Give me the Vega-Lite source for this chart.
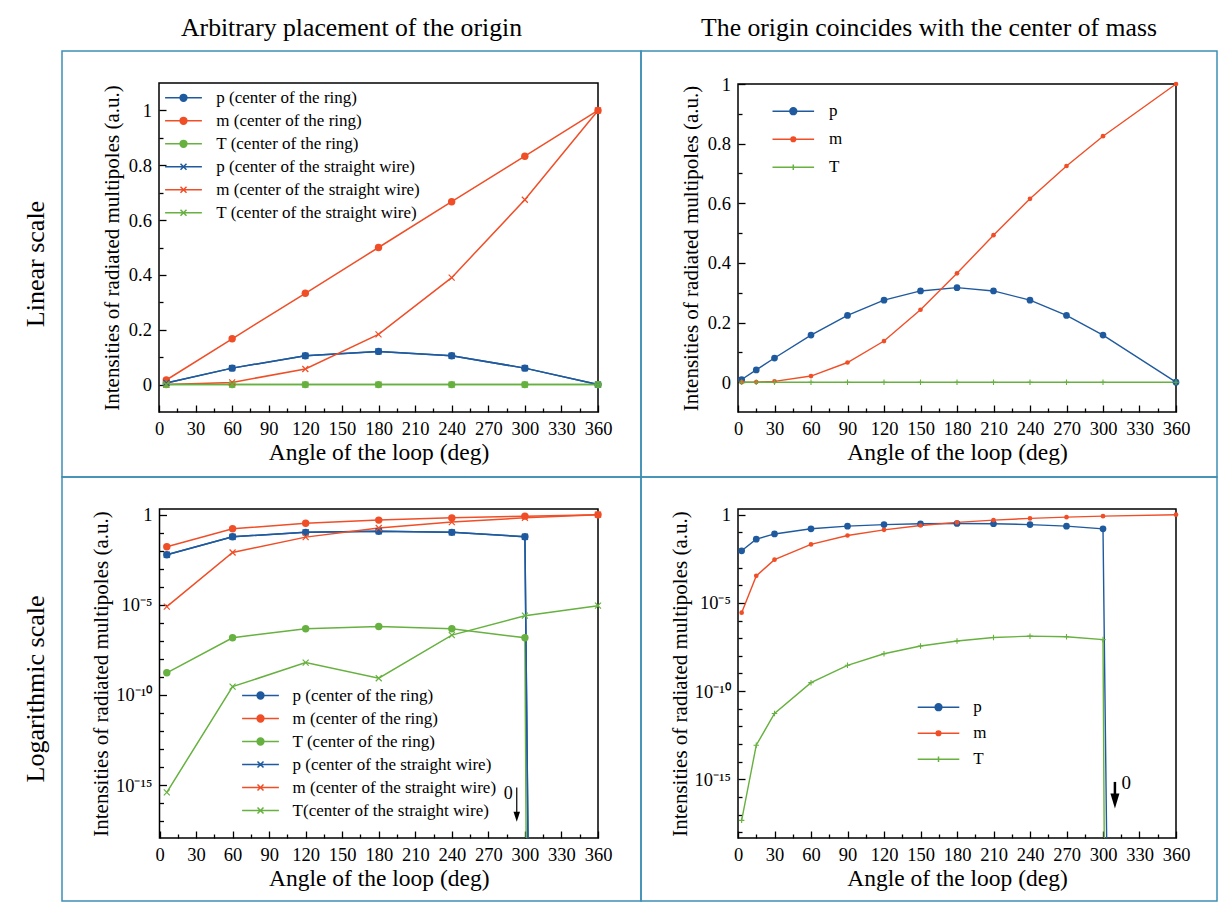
{
  "$schema": "https://vega.github.io/schema/vega-lite/v6.json",
  "background": "white",
  "padding": {"left": 9, "top": 4, "right": 1, "bottom": 1},
  "spacing": 0,
  "bounds": "flush",
  "columns": 3,
  "datasets": {
    "tl": [
      {"angle": 6, "value": 0.006, "series": "p (center of the ring)"},
      {"angle": 60, "value": 0.06, "series": "p (center of the ring)"},
      {"angle": 120, "value": 0.105, "series": "p (center of the ring)"},
      {"angle": 180, "value": 0.121, "series": "p (center of the ring)"},
      {"angle": 240, "value": 0.105, "series": "p (center of the ring)"},
      {"angle": 300, "value": 0.06, "series": "p (center of the ring)"},
      {"angle": 360, "value": 0, "series": "p (center of the ring)"},
      {"angle": 6, "value": 0.0167, "series": "m (center of the ring)"},
      {"angle": 60, "value": 0.167, "series": "m (center of the ring)"},
      {"angle": 120, "value": 0.333, "series": "m (center of the ring)"},
      {"angle": 180, "value": 0.5, "series": "m (center of the ring)"},
      {"angle": 240, "value": 0.667, "series": "m (center of the ring)"},
      {"angle": 300, "value": 0.833, "series": "m (center of the ring)"},
      {"angle": 360, "value": 1, "series": "m (center of the ring)"},
      {"angle": 6, "value": 1.7e-9, "series": "T (center of the ring)"},
      {"angle": 60, "value": 1.5e-7, "series": "T (center of the ring)"},
      {"angle": 120, "value": 4.7e-7, "series": "T (center of the ring)"},
      {"angle": 180, "value": 6.3e-7, "series": "T (center of the ring)"},
      {"angle": 240, "value": 4.7e-7, "series": "T (center of the ring)"},
      {"angle": 300, "value": 1.5e-7, "series": "T (center of the ring)"},
      {"angle": 360, "value": 0, "series": "T (center of the ring)"},
      {"angle": 6, "value": 0.006, "series": "p (center of the straight wire)"},
      {"angle": 60, "value": 0.06, "series": "p (center of the straight wire)"},
      {"angle": 120, "value": 0.105, "series": "p (center of the straight wire)"},
      {"angle": 180, "value": 0.121, "series": "p (center of the straight wire)"},
      {"angle": 240, "value": 0.105, "series": "p (center of the straight wire)"},
      {"angle": 300, "value": 0.06, "series": "p (center of the straight wire)"},
      {"angle": 360, "value": 0, "series": "p (center of the straight wire)"},
      {"angle": 6, "value": 8e-6, "series": "m (center of the straight wire)"},
      {"angle": 60, "value": 0.008, "series": "m (center of the straight wire)"},
      {"angle": 120, "value": 0.057, "series": "m (center of the straight wire)"},
      {"angle": 180, "value": 0.183, "series": "m (center of the straight wire)"},
      {"angle": 240, "value": 0.39, "series": "m (center of the straight wire)"},
      {"angle": 300, "value": 0.674, "series": "m (center of the straight wire)"},
      {"angle": 360, "value": 1, "series": "m (center of the straight wire)"},
      {"angle": 6, "value": 4e-16, "series": "T (center of the straight wire)"},
      {"angle": 60, "value": 2.9e-10, "series": "T (center of the straight wire)"},
      {"angle": 120, "value": 6.3e-9, "series": "T (center of the straight wire)"},
      {"angle": 180, "value": 8.5e-10, "series": "T (center of the straight wire)"},
      {"angle": 240, "value": 2.1e-7, "series": "T (center of the straight wire)"},
      {"angle": 300, "value": 2.5e-6, "series": "T (center of the straight wire)"},
      {"angle": 360, "value": 9e-6, "series": "T (center of the straight wire)"}
    ],
    "bl": [
      {"angle": 6, "value": 0.006, "series": "p (center of the ring)"},
      {"angle": 60, "value": 0.06, "series": "p (center of the ring)"},
      {"angle": 120, "value": 0.105, "series": "p (center of the ring)"},
      {"angle": 180, "value": 0.121, "series": "p (center of the ring)"},
      {"angle": 240, "value": 0.105, "series": "p (center of the ring)"},
      {"angle": 300, "value": 0.06, "series": "p (center of the ring)"},
      {"angle": 302.5, "value": 0, "series": "p (center of the ring)"},
      {"angle": 6, "value": 0.0167, "series": "m (center of the ring)"},
      {"angle": 60, "value": 0.167, "series": "m (center of the ring)"},
      {"angle": 120, "value": 0.333, "series": "m (center of the ring)"},
      {"angle": 180, "value": 0.5, "series": "m (center of the ring)"},
      {"angle": 240, "value": 0.667, "series": "m (center of the ring)"},
      {"angle": 300, "value": 0.833, "series": "m (center of the ring)"},
      {"angle": 360, "value": 1, "series": "m (center of the ring)"},
      {"angle": 6, "value": 1.7e-9, "series": "T (center of the ring)"},
      {"angle": 60, "value": 1.5e-7, "series": "T (center of the ring)"},
      {"angle": 120, "value": 4.7e-7, "series": "T (center of the ring)"},
      {"angle": 180, "value": 6.3e-7, "series": "T (center of the ring)"},
      {"angle": 240, "value": 4.7e-7, "series": "T (center of the ring)"},
      {"angle": 300, "value": 1.5e-7, "series": "T (center of the ring)"},
      {"angle": 301, "value": 0, "series": "T (center of the ring)"},
      {"angle": 6, "value": 0.006, "series": "p (center of the straight wire)"},
      {"angle": 60, "value": 0.06, "series": "p (center of the straight wire)"},
      {"angle": 120, "value": 0.105, "series": "p (center of the straight wire)"},
      {"angle": 180, "value": 0.121, "series": "p (center of the straight wire)"},
      {"angle": 240, "value": 0.105, "series": "p (center of the straight wire)"},
      {"angle": 300, "value": 0.06, "series": "p (center of the straight wire)"},
      {"angle": 302.5, "value": 0, "series": "p (center of the straight wire)"},
      {"angle": 6, "value": 8e-6, "series": "m (center of the straight wire)"},
      {"angle": 60, "value": 0.008, "series": "m (center of the straight wire)"},
      {"angle": 120, "value": 0.057, "series": "m (center of the straight wire)"},
      {"angle": 180, "value": 0.183, "series": "m (center of the straight wire)"},
      {"angle": 240, "value": 0.39, "series": "m (center of the straight wire)"},
      {"angle": 300, "value": 0.674, "series": "m (center of the straight wire)"},
      {"angle": 360, "value": 1, "series": "m (center of the straight wire)"},
      {"angle": 6, "value": 4e-16, "series": "T(center of the straight wire)"},
      {"angle": 60, "value": 2.9e-10, "series": "T(center of the straight wire)"},
      {"angle": 120, "value": 6.3e-9, "series": "T(center of the straight wire)"},
      {"angle": 180, "value": 8.5e-10, "series": "T(center of the straight wire)"},
      {"angle": 240, "value": 2.1e-7, "series": "T(center of the straight wire)"},
      {"angle": 300, "value": 2.5e-6, "series": "T(center of the straight wire)"},
      {"angle": 360, "value": 9e-6, "series": "T(center of the straight wire)"}
    ],
    "tr": [
      {"angle": 3, "value": 0.009, "series": "p"},
      {"angle": 15, "value": 0.041, "series": "p"},
      {"angle": 30, "value": 0.081, "series": "p"},
      {"angle": 60, "value": 0.158, "series": "p"},
      {"angle": 90, "value": 0.224, "series": "p"},
      {"angle": 120, "value": 0.275, "series": "p"},
      {"angle": 150, "value": 0.306, "series": "p"},
      {"angle": 180, "value": 0.317, "series": "p"},
      {"angle": 210, "value": 0.306, "series": "p"},
      {"angle": 240, "value": 0.275, "series": "p"},
      {"angle": 270, "value": 0.224, "series": "p"},
      {"angle": 300, "value": 0.158, "series": "p"},
      {"angle": 360, "value": 0, "series": "p"},
      {"angle": 3, "value": 2.8e-6, "series": "m"},
      {"angle": 15, "value": 0.00034, "series": "m"},
      {"angle": 30, "value": 0.0028, "series": "m"},
      {"angle": 60, "value": 0.0206, "series": "m"},
      {"angle": 90, "value": 0.066, "series": "m"},
      {"angle": 120, "value": 0.138, "series": "m"},
      {"angle": 150, "value": 0.243, "series": "m"},
      {"angle": 180, "value": 0.365, "series": "m"},
      {"angle": 210, "value": 0.493, "series": "m"},
      {"angle": 240, "value": 0.615, "series": "m"},
      {"angle": 270, "value": 0.725, "series": "m"},
      {"angle": 300, "value": 0.825, "series": "m"},
      {"angle": 360, "value": 1, "series": "m"},
      {"angle": 3, "value": 4.7e-18, "series": "T"},
      {"angle": 15, "value": 8.5e-14, "series": "T"},
      {"angle": 30, "value": 5.4e-12, "series": "T"},
      {"angle": 60, "value": 3e-10, "series": "T"},
      {"angle": 90, "value": 2.9e-9, "series": "T"},
      {"angle": 120, "value": 1.3e-8, "series": "T"},
      {"angle": 150, "value": 3.6e-8, "series": "T"},
      {"angle": 180, "value": 6.9e-8, "series": "T"},
      {"angle": 210, "value": 1.1e-7, "series": "T"},
      {"angle": 240, "value": 1.3e-7, "series": "T"},
      {"angle": 270, "value": 1.2e-7, "series": "T"},
      {"angle": 300, "value": 8.3e-8, "series": "T"},
      {"angle": 360, "value": 0, "series": "T"}
    ],
    "br": [
      {"angle": 3, "value": 0.009, "series": "p"},
      {"angle": 15, "value": 0.041, "series": "p"},
      {"angle": 30, "value": 0.081, "series": "p"},
      {"angle": 60, "value": 0.158, "series": "p"},
      {"angle": 90, "value": 0.224, "series": "p"},
      {"angle": 120, "value": 0.275, "series": "p"},
      {"angle": 150, "value": 0.306, "series": "p"},
      {"angle": 180, "value": 0.317, "series": "p"},
      {"angle": 210, "value": 0.306, "series": "p"},
      {"angle": 240, "value": 0.275, "series": "p"},
      {"angle": 270, "value": 0.224, "series": "p"},
      {"angle": 300, "value": 0.158, "series": "p"},
      {"angle": 303, "value": 0, "series": "p"},
      {"angle": 3, "value": 2.8e-6, "series": "m"},
      {"angle": 15, "value": 0.00034, "series": "m"},
      {"angle": 30, "value": 0.0028, "series": "m"},
      {"angle": 60, "value": 0.0206, "series": "m"},
      {"angle": 90, "value": 0.066, "series": "m"},
      {"angle": 120, "value": 0.138, "series": "m"},
      {"angle": 150, "value": 0.243, "series": "m"},
      {"angle": 180, "value": 0.365, "series": "m"},
      {"angle": 210, "value": 0.493, "series": "m"},
      {"angle": 240, "value": 0.615, "series": "m"},
      {"angle": 270, "value": 0.725, "series": "m"},
      {"angle": 300, "value": 0.825, "series": "m"},
      {"angle": 360, "value": 1, "series": "m"},
      {"angle": 3, "value": 4.7e-18, "series": "T"},
      {"angle": 15, "value": 8.5e-14, "series": "T"},
      {"angle": 30, "value": 5.4e-12, "series": "T"},
      {"angle": 60, "value": 3e-10, "series": "T"},
      {"angle": 90, "value": 2.9e-9, "series": "T"},
      {"angle": 120, "value": 1.3e-8, "series": "T"},
      {"angle": 150, "value": 3.6e-8, "series": "T"},
      {"angle": 180, "value": 6.9e-8, "series": "T"},
      {"angle": 210, "value": 1.1e-7, "series": "T"},
      {"angle": 240, "value": 1.3e-7, "series": "T"},
      {"angle": 270, "value": 1.2e-7, "series": "T"},
      {"angle": 300, "value": 8.3e-8, "series": "T"},
      {"angle": 301, "value": 0, "series": "T"}
    ]
  },
  "resolve": {
    "scale": {"color": "independent", "fill": "independent", "stroke": "independent", "shape": "independent"},
    "legend": {"color": "independent", "fill": "independent", "stroke": "independent", "shape": "independent"}
  },
  "concat": [
    {"width": 53, "height": 47, "data": {"values": [{"label": ""}]}, "mark": {"type": "text", "fontSize": 25.7}, "encoding": {"text": {"field": "label", "type": "nominal"}}},
    {"width": 579, "height": 47, "data": {"values": [{"label": "Arbitrary placement of the origin"}]}, "mark": {"type": "text", "fontSize": 25.7}, "encoding": {"text": {"field": "label", "type": "nominal"}}},
    {"width": 576, "height": 47, "data": {"values": [{"label": "The origin coincides with the center of mass"}]}, "mark": {"type": "text", "fontSize": 25.7}, "encoding": {"text": {"field": "label", "type": "nominal"}}},
    {"width": 53, "height": 426, "data": {"values": [{"label": "Linear scale"}]}, "mark": {"type": "text", "fontSize": 26, "angle": 270}, "encoding": {"text": {"field": "label", "type": "nominal"}}},
    {
      "width": 579, "height": 426,
      "resolve": {"axis": {"x": "independent", "y": "independent"}},
      "layer": [
        {
          "data": {"values": [{}]},
          "mark": {"type": "rect", "filled": false, "stroke": "black", "strokeWidth": 1.5},
          "encoding": {
            "x": {"datum": 0, "type": "quantitative", "scale": {"domain": [0, 360], "range": [97, 536], "nice": false, "zero": false}, "axis": {"orient": "bottom", "offset": -65, "values": [15,45,75,105,135,165,195,225,255,285,315,345], "tickSize": -4, "labels": false, "title": null}},
            "x2": {"datum": 360},
            "y": {"datum": -0.1, "type": "quantitative", "scale": {"domain": [-0.1, 1.1], "range": [361, 32], "nice": false, "zero": false}, "axis": {"orient": "left", "offset": -97, "values": [0.1,0.3,0.5,0.7,0.9], "tickSize": -4, "labels": false, "title": null}},
            "y2": {"datum": 1.1}
          }
        },
        {
          "data": {"name": "tl"},
          "mark": {"type": "line", "strokeWidth": 1.5},
          "encoding": {
            "x": {"field": "angle", "type": "quantitative", "scale": {"domain": [0, 360], "range": [97, 536], "nice": false, "zero": false}, "axis": {"orient": "bottom", "offset": -65, "values": [0,30,60,90,120,150,180,210,240,270,300,330,360], "tickSize": -7, "labelPadding": 14, "title": "Angle of the loop (deg)", "titlePadding": 3}},
            "y": {"field": "value", "type": "quantitative", "scale": {"domain": [-0.1, 1.1], "range": [361, 32], "nice": false, "zero": false}, "axis": {"orient": "left", "offset": -97, "values": [0,0.2,0.4,0.6,0.8,1], "format": "~g", "tickSize": -7, "labelPadding": 14.6, "title": "Intensities of radiated multipoles (a.u.)", "titlePadding": 6}},
            "color": {"field": "series", "type": "nominal", "legend": null, "scale": {"domain": ["T (center of the straight wire)", "m (center of the straight wire)", "p (center of the straight wire)", "T (center of the ring)", "m (center of the ring)", "p (center of the ring)"], "range": ["#66b13f", "#f04e27", "#1f5a9e", "#66b13f", "#f04e27", "#1f5a9e"]}}
          }
        },
        {
          "data": {"name": "tl"},
          "transform": [{"filter": "indexof(datum.series, 'ring') >= 0"}],
          "mark": {"type": "point", "shape": "circle", "filled": true, "size": 55, "opacity": 1},
          "encoding": {
            "x": {"field": "angle", "type": "quantitative", "scale": {"domain": [0, 360], "range": [97, 536], "nice": false, "zero": false}, "axis": null},
            "y": {"field": "value", "type": "quantitative", "scale": {"domain": [-0.1, 1.1], "range": [361, 32], "nice": false, "zero": false}, "axis": null},
            "color": {"field": "series", "type": "nominal", "legend": null, "scale": {"domain": ["T (center of the straight wire)", "m (center of the straight wire)", "p (center of the straight wire)", "T (center of the ring)", "m (center of the ring)", "p (center of the ring)"], "range": ["#66b13f", "#f04e27", "#1f5a9e", "#66b13f", "#f04e27", "#1f5a9e"]}}
          }
        },
        {
          "data": {"name": "tl"},
          "transform": [{"filter": "indexof(datum.series, 'wire') >= 0"}],
          "mark": {"type": "point", "shape": "M-1,-1L1,1M-1,1L1,-1", "filled": false, "size": 36, "strokeWidth": 1.2, "opacity": 1},
          "encoding": {
            "x": {"field": "angle", "type": "quantitative", "scale": {"domain": [0, 360], "range": [97, 536], "nice": false, "zero": false}, "axis": null},
            "y": {"field": "value", "type": "quantitative", "scale": {"domain": [-0.1, 1.1], "range": [361, 32], "nice": false, "zero": false}, "axis": null},
            "color": {"field": "series", "type": "nominal", "legend": null, "scale": {"domain": ["T (center of the straight wire)", "m (center of the straight wire)", "p (center of the straight wire)", "T (center of the ring)", "m (center of the ring)", "p (center of the ring)"], "range": ["#66b13f", "#f04e27", "#1f5a9e", "#66b13f", "#f04e27", "#1f5a9e"]}}
          }
        },
        {
          "data": {"values": []},
          "mark": {"type": "point", "filled": true, "opacity": 1},
          "encoding": {
            "fill": {"field": "series", "type": "nominal", "scale": {"domain": ["p (center of the ring)", "m (center of the ring)", "T (center of the ring)", "p (center of the straight wire)", "m (center of the straight wire)", "T (center of the straight wire)"], "range": ["#1f5a9e", "#f04e27", "#66b13f", "#1f5a9e", "#f04e27", "#66b13f"]}, "legend": {"title": null, "orient": "none", "legendX": 113, "legendY": 38.3, "symbolSize": 64, "labelOffset": 24.3, "rowPadding": 5}},
            "stroke": {"field": "series", "type": "nominal", "scale": {"domain": ["p (center of the ring)", "m (center of the ring)", "T (center of the ring)", "p (center of the straight wire)", "m (center of the straight wire)", "T (center of the straight wire)"], "range": ["#1f5a9e", "#f04e27", "#66b13f", "#1f5a9e", "#f04e27", "#66b13f"]}, "legend": {"title": null, "orient": "none", "legendX": 113, "legendY": 38.3, "symbolSize": 64, "labelOffset": 24.3, "rowPadding": 5}},
            "shape": {"field": "series", "type": "nominal", "scale": {"domain": ["p (center of the ring)", "m (center of the ring)", "T (center of the ring)", "p (center of the straight wire)", "m (center of the straight wire)", "T (center of the straight wire)"], "range": ["M-4.6,0H4.6M-0.85,0A0.85,0.85,0,1,0,0.85,0A0.85,0.85,0,1,0,-0.85,0Z", "M-4.6,0H4.6M-0.85,0A0.85,0.85,0,1,0,0.85,0A0.85,0.85,0,1,0,-0.85,0Z", "M-4.6,0H4.6M-0.85,0A0.85,0.85,0,1,0,0.85,0A0.85,0.85,0,1,0,-0.85,0Z", "M-4.6,0H4.6M-0.75,-0.75L0.75,0.75M-0.75,0.75L0.75,-0.75", "M-4.6,0H4.6M-0.75,-0.75L0.75,0.75M-0.75,0.75L0.75,-0.75", "M-4.6,0H4.6M-0.75,-0.75L0.75,0.75M-0.75,0.75L0.75,-0.75"]}, "legend": {"title": null, "orient": "none", "legendX": 113, "legendY": 38.3, "symbolSize": 64, "labelOffset": 24.3, "rowPadding": 5}}
          }
        }
      ]
    },
    {
      "width": 576, "height": 426,
      "resolve": {"axis": {"x": "independent", "y": "independent"}},
      "layer": [
        {
          "data": {"values": [{}]},
          "mark": {"type": "rect", "filled": false, "stroke": "black", "strokeWidth": 1.5},
          "encoding": {
            "x": {"datum": 0, "type": "quantitative", "scale": {"domain": [0, 360], "range": [97, 535], "nice": false, "zero": false}, "axis": {"orient": "bottom", "offset": -65, "values": [15,45,75,105,135,165,195,225,255,285,315,345], "tickSize": -4, "labels": false, "title": null}},
            "x2": {"datum": 360},
            "y": {"datum": -0.1, "type": "quantitative", "scale": {"domain": [-0.1, 1], "range": [361, 33], "nice": false, "zero": false}, "axis": {"orient": "left", "offset": -97, "values": [0.1,0.3,0.5,0.7,0.9], "tickSize": -4, "labels": false, "title": null}},
            "y2": {"datum": 1}
          }
        },
        {
          "data": {"name": "tr"},
          "mark": {"type": "line", "strokeWidth": 1.4},
          "encoding": {
            "x": {"field": "angle", "type": "quantitative", "scale": {"domain": [0, 360], "range": [97, 535], "nice": false, "zero": false}, "axis": {"orient": "bottom", "offset": -65, "values": [0,30,60,90,120,150,180,210,240,270,300,330,360], "tickSize": -7, "labelPadding": 14, "title": "Angle of the loop (deg)", "titlePadding": 3}},
            "y": {"field": "value", "type": "quantitative", "scale": {"domain": [-0.1, 1], "range": [361, 33], "nice": false, "zero": false}, "axis": {"orient": "left", "offset": -97, "values": [0,0.2,0.4,0.6,0.8,1], "format": "~g", "tickSize": -7, "labelPadding": 14.6, "title": "Intensities of radiated multipoles (a.u.)", "titlePadding": 6}},
            "color": {"field": "series", "type": "nominal", "legend": null, "scale": {"domain": ["T", "m", "p"], "range": ["#66b13f", "#f04e27", "#1f5a9e"]}}
          }
        },
        {
          "data": {"name": "tr"},
          "transform": [{"filter": "datum.series == 'p'"}],
          "mark": {"type": "point", "shape": "circle", "filled": true, "size": 45, "opacity": 1},
          "encoding": {
            "x": {"field": "angle", "type": "quantitative", "scale": {"domain": [0, 360], "range": [97, 535], "nice": false, "zero": false}, "axis": null},
            "y": {"field": "value", "type": "quantitative", "scale": {"domain": [-0.1, 1], "range": [361, 33], "nice": false, "zero": false}, "axis": null},
            "color": {"field": "series", "type": "nominal", "legend": null, "scale": {"domain": ["T", "m", "p"], "range": ["#66b13f", "#f04e27", "#1f5a9e"]}}
          }
        },
        {
          "data": {"name": "tr"},
          "transform": [{"filter": "datum.series == 'm'"}],
          "mark": {"type": "point", "shape": "circle", "filled": true, "size": 22, "opacity": 1},
          "encoding": {
            "x": {"field": "angle", "type": "quantitative", "scale": {"domain": [0, 360], "range": [97, 535], "nice": false, "zero": false}, "axis": null},
            "y": {"field": "value", "type": "quantitative", "scale": {"domain": [-0.1, 1], "range": [361, 33], "nice": false, "zero": false}, "axis": null},
            "color": {"field": "series", "type": "nominal", "legend": null, "scale": {"domain": ["T", "m", "p"], "range": ["#66b13f", "#f04e27", "#1f5a9e"]}}
          }
        },
        {
          "data": {"name": "tr"},
          "transform": [{"filter": "datum.series == 'T'"}],
          "mark": {"type": "point", "shape": "M-1,0L1,0M0,-1L0,1", "filled": false, "size": 30, "strokeWidth": 1.1, "opacity": 1},
          "encoding": {
            "x": {"field": "angle", "type": "quantitative", "scale": {"domain": [0, 360], "range": [97, 535], "nice": false, "zero": false}, "axis": null},
            "y": {"field": "value", "type": "quantitative", "scale": {"domain": [-0.1, 1], "range": [361, 33], "nice": false, "zero": false}, "axis": null},
            "color": {"field": "series", "type": "nominal", "legend": null, "scale": {"domain": ["T", "m", "p"], "range": ["#66b13f", "#f04e27", "#1f5a9e"]}}
          }
        },
        {
          "data": {"values": []},
          "mark": {"type": "point", "filled": true, "opacity": 1},
          "encoding": {
            "fill": {"field": "series", "type": "nominal", "scale": {"domain": ["p", "m", "T"], "range": ["#1f5a9e", "#f04e27", "#66b13f"]}, "legend": {"title": null, "orient": "none", "legendX": 143.8, "legendY": 51.7, "symbolSize": 64, "labelOffset": 27.2, "rowPadding": 10}},
            "stroke": {"field": "series", "type": "nominal", "scale": {"domain": ["p", "m", "T"], "range": ["#1f5a9e", "#f04e27", "#66b13f"]}, "legend": {"title": null, "orient": "none", "legendX": 143.8, "legendY": 51.7, "symbolSize": 64, "labelOffset": 27.2, "rowPadding": 10}},
            "shape": {"field": "series", "type": "nominal", "scale": {"domain": ["p", "m", "T"], "range": ["M-5.2,0H5.2M-0.85,0A0.85,0.85,0,1,0,0.85,0A0.85,0.85,0,1,0,-0.85,0Z", "M-5.2,0H5.2M-0.58,0A0.58,0.58,0,1,0,0.58,0A0.58,0.58,0,1,0,-0.58,0Z", "M-5.2,0H5.2M0,-0.7V0.7"]}, "legend": {"title": null, "orient": "none", "legendX": 143.8, "legendY": 51.7, "symbolSize": 64, "labelOffset": 27.2, "rowPadding": 10}}
          }
        }
      ]
    },
    {"width": 53, "height": 424, "data": {"values": [{"label": "Logarithmic scale"}]}, "mark": {"type": "text", "fontSize": 26, "angle": 270}, "encoding": {"text": {"field": "label", "type": "nominal"}}},
    {
      "width": 579, "height": 424,
      "resolve": {"axis": {"x": "independent", "y": "independent"}},
      "layer": [
        {
          "data": {"values": [{}]},
          "mark": {"type": "rect", "filled": false, "stroke": "black", "strokeWidth": 1.5},
          "encoding": {
            "x": {"datum": 0, "type": "quantitative", "scale": {"domain": [0, 360], "range": [97.5, 536], "nice": false, "zero": false}, "axis": {"orient": "bottom", "offset": -63, "values": [15,45,75,105,135,165,195,225,255,285,315,345], "tickSize": -4, "labels": false, "title": null}},
            "x2": {"datum": 360},
            "y": {"datum": 1.17e-18, "type": "quantitative", "scale": {"type": "log", "domain": [1.17e-18, 2.07], "range": [361, 32], "nice": false, "clamp": true}, "axis": {"orient": "left", "offset": -97.5, "values": [0.1,0.01,0.001,0.0001,1e-6,1e-7,1e-8,1e-9,1e-11,1e-12,1e-13,1e-14,1e-16,1e-17], "tickSize": -4, "labels": false, "title": null}},
            "y2": {"datum": 2.07}
          }
        },
        {
          "data": {"name": "bl"},
          "mark": {"type": "line", "strokeWidth": 1.5},
          "encoding": {
            "x": {"field": "angle", "type": "quantitative", "scale": {"domain": [0, 360], "range": [97.5, 536], "nice": false, "zero": false}, "axis": {"orient": "bottom", "offset": -63, "values": [0,30,60,90,120,150,180,210,240,270,300,330,360], "tickSize": -7, "labelPadding": 14, "title": "Angle of the loop (deg)", "titlePadding": 3}},
            "y": {"field": "value", "type": "quantitative", "scale": {"type": "log", "domain": [1.17e-18, 2.07], "range": [361, 32], "nice": false, "clamp": true}, "axis": {"orient": "left", "offset": -97.5, "values": [1, 1e-5, 1e-10, 1e-15], "labelExpr": "datum.value == 1 ? '1' : datum.value == 1e-5 ? '10⁻⁵' : datum.value == 1e-10 ? '10⁻¹⁰' : '10⁻¹⁵'", "tickSize": -7, "labelPadding": 14.6, "title": "Intensities of radiated multipoles (a.u.)", "titlePadding": 4}},
            "color": {"field": "series", "type": "nominal", "legend": null, "scale": {"domain": ["T(center of the straight wire)", "m (center of the straight wire)", "p (center of the straight wire)", "T (center of the ring)", "m (center of the ring)", "p (center of the ring)"], "range": ["#66b13f", "#f04e27", "#1f5a9e", "#66b13f", "#f04e27", "#1f5a9e"]}}
          }
        },
        {
          "data": {"name": "bl"},
          "transform": [{"filter": "indexof(datum.series, 'ring') >= 0 && datum.value > 0"}],
          "mark": {"type": "point", "shape": "circle", "filled": true, "size": 55, "opacity": 1},
          "encoding": {
            "x": {"field": "angle", "type": "quantitative", "scale": {"domain": [0, 360], "range": [97.5, 536], "nice": false, "zero": false}, "axis": null},
            "y": {"field": "value", "type": "quantitative", "scale": {"type": "log", "domain": [1.17e-18, 2.07], "range": [361, 32], "nice": false, "clamp": true}, "axis": null},
            "color": {"field": "series", "type": "nominal", "legend": null, "scale": {"domain": ["T(center of the straight wire)", "m (center of the straight wire)", "p (center of the straight wire)", "T (center of the ring)", "m (center of the ring)", "p (center of the ring)"], "range": ["#66b13f", "#f04e27", "#1f5a9e", "#66b13f", "#f04e27", "#1f5a9e"]}}
          }
        },
        {
          "data": {"name": "bl"},
          "transform": [{"filter": "indexof(datum.series, 'wire') >= 0 && datum.value > 0"}],
          "mark": {"type": "point", "shape": "M-1,-1L1,1M-1,1L1,-1", "filled": false, "size": 36, "strokeWidth": 1.2, "opacity": 1},
          "encoding": {
            "x": {"field": "angle", "type": "quantitative", "scale": {"domain": [0, 360], "range": [97.5, 536], "nice": false, "zero": false}, "axis": null},
            "y": {"field": "value", "type": "quantitative", "scale": {"type": "log", "domain": [1.17e-18, 2.07], "range": [361, 32], "nice": false, "clamp": true}, "axis": null},
            "color": {"field": "series", "type": "nominal", "legend": null, "scale": {"domain": ["T(center of the straight wire)", "m (center of the straight wire)", "p (center of the straight wire)", "T (center of the ring)", "m (center of the ring)", "p (center of the ring)"], "range": ["#66b13f", "#f04e27", "#1f5a9e", "#66b13f", "#f04e27", "#1f5a9e"]}}
          }
        },
        {
          "data": {"values": [{}]},
          "mark": {"type": "rule", "color": "black", "strokeWidth": 1.2},
          "encoding": {
            "x": {"datum": 293.3, "type": "quantitative", "scale": {"domain": [0, 360], "range": [97.5, 536], "nice": false, "zero": false}, "axis": null},
            "y": {"datum": 7.4e-16, "type": "quantitative", "scale": {"type": "log", "domain": [1.17e-18, 2.07], "range": [361, 32], "nice": false, "clamp": true}, "axis": null},
            "y2": {"datum": 2e-17}
          }
        },
        {
          "data": {"values": [{}]},
          "mark": {"type": "point", "shape": "M-0.65,-1L0.65,-1L0,1Z", "filled": true, "color": "black", "size": 100, "opacity": 1},
          "encoding": {
            "x": {"datum": 293.3, "type": "quantitative", "scale": {"domain": [0, 360], "range": [97.5, 536], "nice": false, "zero": false}, "axis": null},
            "y": {"datum": 1.74e-17, "type": "quantitative", "scale": {"type": "log", "domain": [1.17e-18, 2.07], "range": [361, 32], "nice": false, "clamp": true}, "axis": null}
          }
        },
        {
          "data": {"values": [{}]},
          "mark": {"type": "text", "text": "0", "fontSize": 18, "color": "black"},
          "encoding": {
            "x": {"datum": 286.3, "type": "quantitative", "scale": {"domain": [0, 360], "range": [97.5, 536], "nice": false, "zero": false}, "axis": null},
            "y": {"datum": 3.2e-16, "type": "quantitative", "scale": {"type": "log", "domain": [1.17e-18, 2.07], "range": [361, 32], "nice": false, "clamp": true}, "axis": null}
          }
        },
        {
          "data": {"values": []},
          "mark": {"type": "point", "filled": true, "opacity": 1},
          "encoding": {
            "fill": {"field": "series", "type": "nominal", "scale": {"domain": ["p (center of the ring)", "m (center of the ring)", "T (center of the ring)", "p (center of the straight wire)", "m (center of the straight wire)", "T(center of the straight wire)"], "range": ["#1f5a9e", "#f04e27", "#66b13f", "#1f5a9e", "#f04e27", "#66b13f"]}, "legend": {"title": null, "orient": "none", "legendX": 190, "legendY": 210, "symbolSize": 64, "labelOffset": 23.6, "rowPadding": 5}},
            "stroke": {"field": "series", "type": "nominal", "scale": {"domain": ["p (center of the ring)", "m (center of the ring)", "T (center of the ring)", "p (center of the straight wire)", "m (center of the straight wire)", "T(center of the straight wire)"], "range": ["#1f5a9e", "#f04e27", "#66b13f", "#1f5a9e", "#f04e27", "#66b13f"]}, "legend": {"title": null, "orient": "none", "legendX": 190, "legendY": 210, "symbolSize": 64, "labelOffset": 23.6, "rowPadding": 5}},
            "shape": {"field": "series", "type": "nominal", "scale": {"domain": ["p (center of the ring)", "m (center of the ring)", "T (center of the ring)", "p (center of the straight wire)", "m (center of the straight wire)", "T(center of the straight wire)"], "range": ["M-4.6,0H4.6M-0.85,0A0.85,0.85,0,1,0,0.85,0A0.85,0.85,0,1,0,-0.85,0Z", "M-4.6,0H4.6M-0.85,0A0.85,0.85,0,1,0,0.85,0A0.85,0.85,0,1,0,-0.85,0Z", "M-4.6,0H4.6M-0.85,0A0.85,0.85,0,1,0,0.85,0A0.85,0.85,0,1,0,-0.85,0Z", "M-4.6,0H4.6M-0.75,-0.75L0.75,0.75M-0.75,0.75L0.75,-0.75", "M-4.6,0H4.6M-0.75,-0.75L0.75,0.75M-0.75,0.75L0.75,-0.75", "M-4.6,0H4.6M-0.75,-0.75L0.75,0.75M-0.75,0.75L0.75,-0.75"]}, "legend": {"title": null, "orient": "none", "legendX": 190, "legendY": 210, "symbolSize": 64, "labelOffset": 23.6, "rowPadding": 5}}
          }
        }
      ]
    },
    {
      "width": 576, "height": 424,
      "resolve": {"axis": {"x": "independent", "y": "independent"}},
      "layer": [
        {
          "data": {"values": [{}]},
          "mark": {"type": "rect", "filled": false, "stroke": "black", "strokeWidth": 1.5},
          "encoding": {
            "x": {"datum": 0, "type": "quantitative", "scale": {"domain": [0, 360], "range": [97, 535], "nice": false, "zero": false}, "axis": {"orient": "bottom", "offset": -63, "values": [15,45,75,105,135,165,195,225,255,285,315,345], "tickSize": -4, "labels": false, "title": null}},
            "x2": {"datum": 360},
            "y": {"datum": 4.7e-19, "type": "quantitative", "scale": {"type": "log", "domain": [4.7e-19, 2.1], "range": [361, 32], "nice": false, "clamp": true}, "axis": {"orient": "left", "offset": -97, "values": [0.1,0.01,0.001,0.0001,1e-6,1e-7,1e-8,1e-9,1e-11,1e-12,1e-13,1e-14,1e-16,1e-17,1e-18], "tickSize": -4, "labels": false, "title": null}},
            "y2": {"datum": 2.1}
          }
        },
        {
          "data": {"name": "br"},
          "mark": {"type": "line", "strokeWidth": 1.4},
          "encoding": {
            "x": {"field": "angle", "type": "quantitative", "scale": {"domain": [0, 360], "range": [97, 535], "nice": false, "zero": false}, "axis": {"orient": "bottom", "offset": -63, "values": [0,30,60,90,120,150,180,210,240,270,300,330,360], "tickSize": -7, "labelPadding": 14, "title": "Angle of the loop (deg)", "titlePadding": 3}},
            "y": {"field": "value", "type": "quantitative", "scale": {"type": "log", "domain": [4.7e-19, 2.1], "range": [361, 32], "nice": false, "clamp": true}, "axis": {"orient": "left", "offset": -97, "values": [1, 1e-5, 1e-10, 1e-15], "labelExpr": "datum.value == 1 ? '1' : datum.value == 1e-5 ? '10⁻⁵' : datum.value == 1e-10 ? '10⁻¹⁰' : '10⁻¹⁵'", "tickSize": -7, "labelPadding": 14.6, "title": "Intensities of radiated multipoles (a.u.)", "titlePadding": 3}},
            "color": {"field": "series", "type": "nominal", "legend": null, "scale": {"domain": ["T", "m", "p"], "range": ["#66b13f", "#f04e27", "#1f5a9e"]}}
          }
        },
        {
          "data": {"name": "br"},
          "transform": [{"filter": "datum.series == 'p' && datum.value > 0"}],
          "mark": {"type": "point", "shape": "circle", "filled": true, "size": 45, "opacity": 1},
          "encoding": {
            "x": {"field": "angle", "type": "quantitative", "scale": {"domain": [0, 360], "range": [97, 535], "nice": false, "zero": false}, "axis": null},
            "y": {"field": "value", "type": "quantitative", "scale": {"type": "log", "domain": [4.7e-19, 2.1], "range": [361, 32], "nice": false, "clamp": true}, "axis": null},
            "color": {"field": "series", "type": "nominal", "legend": null, "scale": {"domain": ["T", "m", "p"], "range": ["#66b13f", "#f04e27", "#1f5a9e"]}}
          }
        },
        {
          "data": {"name": "br"},
          "transform": [{"filter": "datum.series == 'm' && datum.value > 0"}],
          "mark": {"type": "point", "shape": "circle", "filled": true, "size": 22, "opacity": 1},
          "encoding": {
            "x": {"field": "angle", "type": "quantitative", "scale": {"domain": [0, 360], "range": [97, 535], "nice": false, "zero": false}, "axis": null},
            "y": {"field": "value", "type": "quantitative", "scale": {"type": "log", "domain": [4.7e-19, 2.1], "range": [361, 32], "nice": false, "clamp": true}, "axis": null},
            "color": {"field": "series", "type": "nominal", "legend": null, "scale": {"domain": ["T", "m", "p"], "range": ["#66b13f", "#f04e27", "#1f5a9e"]}}
          }
        },
        {
          "data": {"name": "br"},
          "transform": [{"filter": "datum.series == 'T' && datum.value > 0"}],
          "mark": {"type": "point", "shape": "M-1,0L1,0M0,-1L0,1", "filled": false, "size": 30, "strokeWidth": 1.1, "opacity": 1},
          "encoding": {
            "x": {"field": "angle", "type": "quantitative", "scale": {"domain": [0, 360], "range": [97, 535], "nice": false, "zero": false}, "axis": null},
            "y": {"field": "value", "type": "quantitative", "scale": {"type": "log", "domain": [4.7e-19, 2.1], "range": [361, 32], "nice": false, "clamp": true}, "axis": null},
            "color": {"field": "series", "type": "nominal", "legend": null, "scale": {"domain": ["T", "m", "p"], "range": ["#66b13f", "#f04e27", "#1f5a9e"]}}
          }
        },
        {
          "data": {"values": [{}]},
          "mark": {"type": "rule", "color": "black", "strokeWidth": 2.5},
          "encoding": {
            "x": {"datum": 309.8, "type": "quantitative", "scale": {"domain": [0, 360], "range": [97, 535], "nice": false, "zero": false}, "axis": null},
            "y": {"datum": 7.1e-16, "type": "quantitative", "scale": {"type": "log", "domain": [4.7e-19, 2.1], "range": [361, 32], "nice": false, "clamp": true}, "axis": null},
            "y2": {"datum": 8e-17}
          }
        },
        {
          "data": {"values": [{}]},
          "mark": {"type": "point", "shape": "M-0.6,-1L0.6,-1L0,1Z", "filled": true, "color": "black", "size": 225, "opacity": 1},
          "encoding": {
            "x": {"datum": 309.8, "type": "quantitative", "scale": {"domain": [0, 360], "range": [97, 535], "nice": false, "zero": false}, "axis": null},
            "y": {"datum": 5.8e-17, "type": "quantitative", "scale": {"type": "log", "domain": [4.7e-19, 2.1], "range": [361, 32], "nice": false, "clamp": true}, "axis": null}
          }
        },
        {
          "data": {"values": [{}]},
          "mark": {"type": "text", "text": "0", "fontSize": 19, "color": "black"},
          "encoding": {
            "x": {"datum": 319.1, "type": "quantitative", "scale": {"domain": [0, 360], "range": [97, 535], "nice": false, "zero": false}, "axis": null},
            "y": {"datum": 5.8e-16, "type": "quantitative", "scale": {"type": "log", "domain": [4.7e-19, 2.1], "range": [361, 32], "nice": false, "clamp": true}, "axis": null}
          }
        },
        {
          "data": {"values": []},
          "mark": {"type": "point", "filled": true, "opacity": 1},
          "encoding": {
            "fill": {"field": "series", "type": "nominal", "scale": {"domain": ["p", "m", "T"], "range": ["#1f5a9e", "#f04e27", "#66b13f"]}, "legend": {"title": null, "orient": "none", "legendX": 289, "legendY": 221.7, "symbolSize": 64, "labelOffset": 26.2, "rowPadding": 8}},
            "stroke": {"field": "series", "type": "nominal", "scale": {"domain": ["p", "m", "T"], "range": ["#1f5a9e", "#f04e27", "#66b13f"]}, "legend": {"title": null, "orient": "none", "legendX": 289, "legendY": 221.7, "symbolSize": 64, "labelOffset": 26.2, "rowPadding": 8}},
            "shape": {"field": "series", "type": "nominal", "scale": {"domain": ["p", "m", "T"], "range": ["M-5.2,0H5.2M-0.85,0A0.85,0.85,0,1,0,0.85,0A0.85,0.85,0,1,0,-0.85,0Z", "M-5.2,0H5.2M-0.58,0A0.58,0.58,0,1,0,0.58,0A0.58,0.58,0,1,0,-0.58,0Z", "M-5.2,0H5.2M0,-0.7V0.7"]}, "legend": {"title": null, "orient": "none", "legendX": 289, "legendY": 221.7, "symbolSize": 64, "labelOffset": 26.2, "rowPadding": 8}}
          }
        }
      ]
    }
  ],
  "config": {
    "font": "Liberation Serif",
    "view": {"stroke": "#3d8fb5", "strokeWidth": 1.5},
    "text": {"font": "Liberation Serif", "color": "black"},
    "axis": {
      "labelFont": "Liberation Serif", "labelFontSize": 18.5, "labelColor": "black",
      "titleFont": "Liberation Serif", "titleFontWeight": "normal", "titleColor": "black",
      "tickColor": "black", "tickWidth": 1.3, "grid": false, "domain": false,
      "labelFlush": false, "labelOverlap": false, "labelBound": false
    },
    "axisX": {"titleFontSize": 23.5},
    "axisY": {"titleFontSize": 21},
    "legend": {
      "labelFont": "Liberation Serif", "labelFontSize": 17, "labelColor": "black", "labelLimit": 500,
      "padding": 0, "symbolStrokeWidth": 1.5, "symbolOpacity": 1
    }
  }
}
